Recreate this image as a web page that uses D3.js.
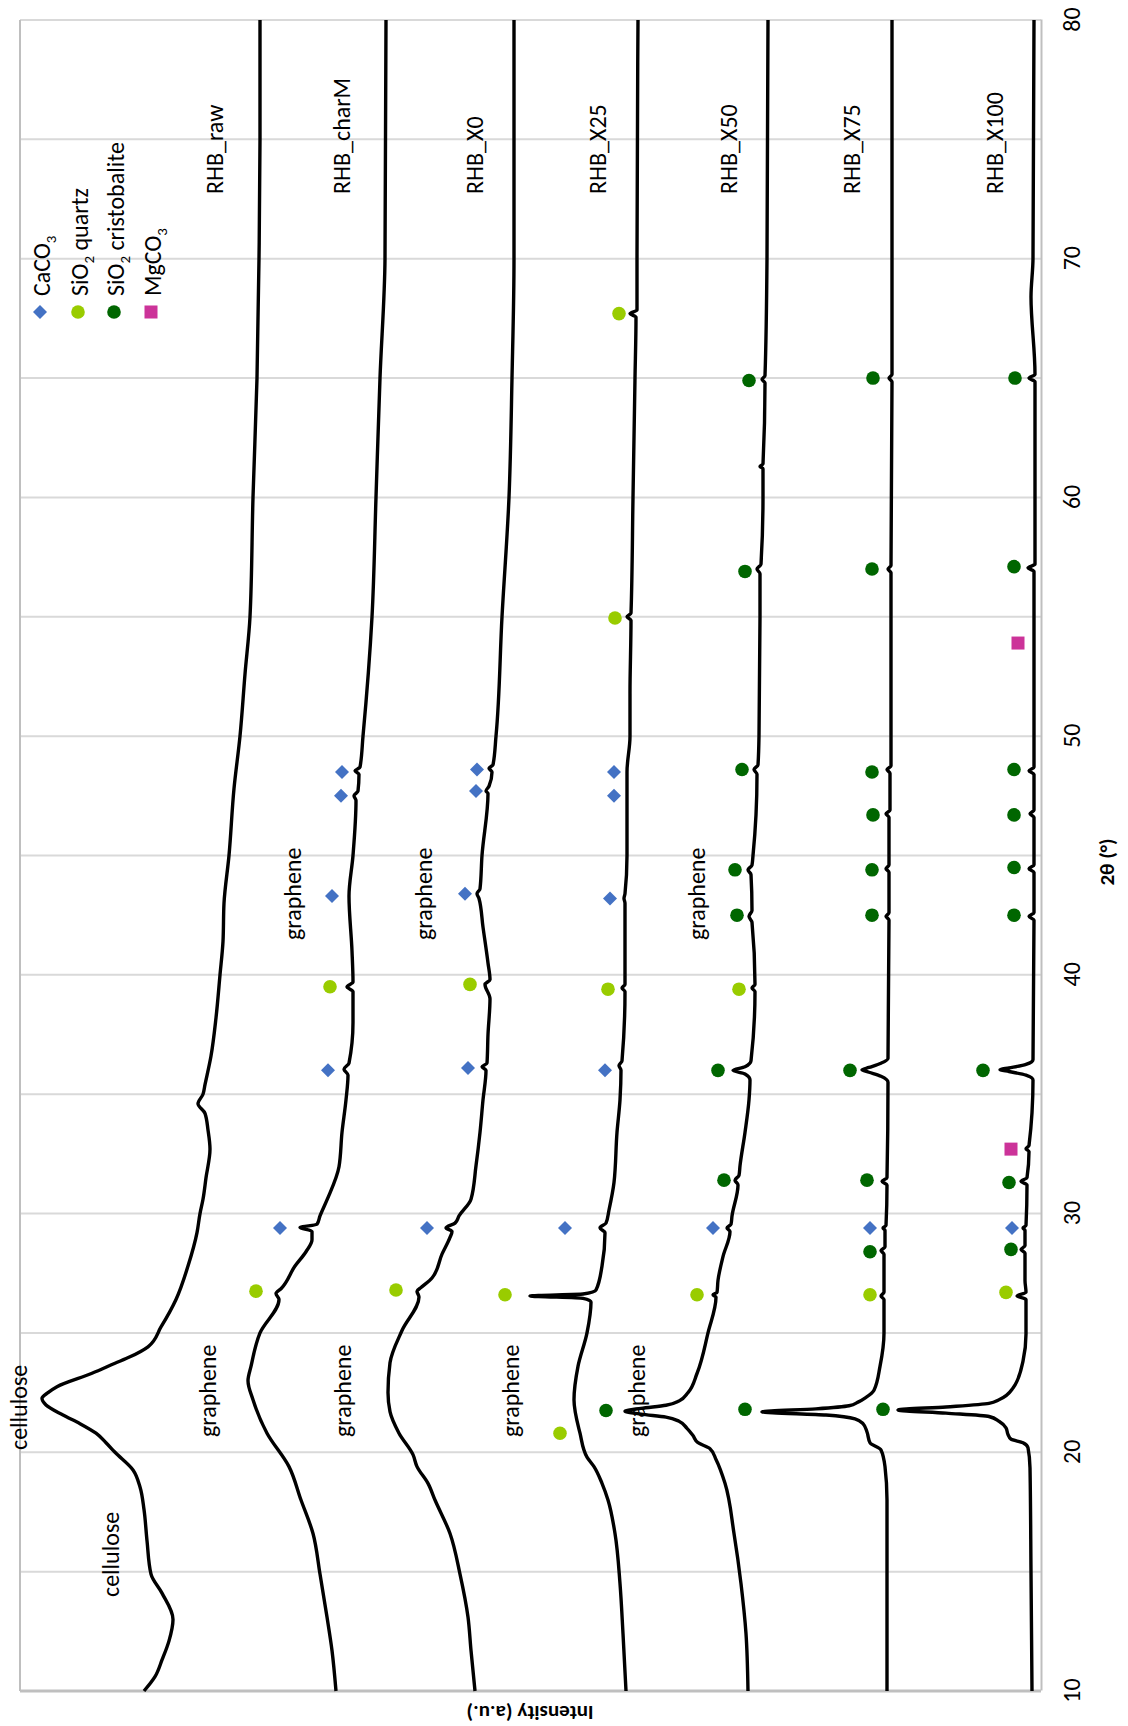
<!DOCTYPE html>
<html><head><meta charset="utf-8">
<script src="https://cdn.jsdelivr.net/npm/d3@7"></script>
<style>
body{margin:0;background:#fff;}
svg{display:block;}
</style>
</head><body>
<svg id="c" width="1128" height="1726"></svg>
<script>
// ---- axis ticks ----
const xTicks = [10, 20, 30, 40, 50, 60, 70, 80];
const gridTicks = [10, 15, 20, 25, 30, 35, 40, 45, 50, 55, 60, 65, 70, 75, 80];

// ---- series names ----
const seriesNames = ["RHB_raw", "RHB_charM", "RHB_X0", "RHB_X25", "RHB_X50", "RHB_X75", "RHB_X100"];

// ---- series values: [2theta, intensity (a.u., stacked offsets)] ----
const RHB_raw = [[10,897],[10.6,886],[11.3,879],[12.1,872],[13.0,868],[14.1,879],[14.9,890],[16.3,894],[17.6,897],[18.55,901],[19.26,908],[20.0,926],[20.4,935],[20.8,945],[21.2,961],[21.56,978],[21.98,995],[22.26,999],[22.5,993],[22.75,984],[23.31,949],[23.73,926],[24.0,911],[24.42,893],[25.25,880],[26.4,865],[27.8,853],[29.2,844],[30,841],[30.6,838],[31.5,835],[32.7,831],[33.5,833],[34.2,836],[34.6,843],[35,838],[35.4,836],[36.6,830],[38.2,825],[40,821],[41.4,818],[43,817],[45,812],[47.8,807],[50,801],[52.6,796],[55,791],[60,788],[65,784],[70,782],[75,781],[80,781]];
const RHB_charM = [[10,705],[11.7,709],[13.1,714],[14.9,721],[16.6,728],[18.0,740],[19.4,752],[20.8,774],[22.2,788],[23.0,793],[23.6,790],[25.0,781],[26.4,762],[26.65,765],[26.85,760],[27.8,746],[28.4,735],[28.9,729],[29.25,729],[29.42,741],[29.55,724],[29.9,721],[30.57,714],[31.96,702],[33.4,699],[34.76,695],[35.8,693],[36.05,697],[36.3,692],[38,688],[39.3,688],[39.5,694],[39.7,688],[41,689],[43.3,692],[45,688],[47.3,685],[47.5,687],[47.7,683],[48.4,682],[48.55,686],[48.7,681],[50,678],[55,669],[60,665],[65,661],[70,656],[80,655]];
const RHB_X0 = [[10,566],[11.7,570],[13.1,573],[14.9,581],[16.6,591],[18.0,606],[18.7,613],[19.4,624],[19.9,628],[20.8,642],[21.7,651],[22.5,653],[23.75,651],[25.1,639],[26.5,622],[26.75,624],[26.9,620],[27.3,609],[28.3,599],[29.0,591],[29.25,589],[29.4,595],[29.6,586],[29.9,582],[30.6,570],[32.0,565],[33.4,561],[34.76,558],[36.0,555],[36.15,559],[36.3,554],[37.5,553],[39.0,551],[39.6,556],[39.8,551],[40.5,553],[42,558],[43.2,562],[43.4,564],[43.6,561],[45,559],[47.6,553],[47.7,555],[47.9,552],[48.5,549],[48.65,552],[48.8,548],[50,545],[55,539],[60,532],[65,529],[70,527],[80,527]];
const RHB_X25 = [[10,415],[12.4,418],[14.5,421],[16.6,426],[18.0,433],[18.7,439],[19.4,447],[19.8,454],[20.8,461],[22.2,467],[23.6,463],[25.0,454],[26.3,450],[26.45,458],[26.55,511],[26.63,458],[26.8,445],[27.8,439],[29.2,436],[29.4,441],[29.6,435],[30.15,432],[31.3,427],[33.4,424],[34.76,421],[36.0,420],[36.2,422],[36.4,419],[39.3,416],[39.45,419],[39.6,416],[43.0,416],[43.2,417],[43.4,416],[45,414],[48.5,414],[50,411],[51.8,411],[54.85,410],[55.0,414],[55.15,410],[60,408],[65,406],[67.55,405],[67.7,411],[67.85,404],[70,404],[80,403]];
const RHB_X50 = [[10,293],[12.4,295],[14.5,300],[16.6,307],[18.7,316],[19.7,325],[20.15,331],[20.4,343],[20.7,348],[21.0,354],[21.3,362],[21.47,375],[21.6,400],[21.72,416],[21.84,400],[21.97,375],[22.15,362],[22.5,353],[23.3,344],[25.0,333],[26.5,325],[26.6,328],[26.7,324],[27.2,323],[28.2,318],[29.25,311],[29.4,314],[29.55,310],[29.9,309],[31.2,303],[31.4,306],[31.6,302],[32,301],[33.4,296],[34.76,292],[35.6,291],[35.85,296],[36.0,308],[36.15,296],[36.4,290],[39.3,286],[39.45,289],[39.6,286],[42.2,289],[42.45,292],[42.7,289],[44.2,290],[44.4,293],[44.6,289],[45,288],[48.4,284],[48.6,287],[48.8,283],[50,282],[55,281],[56.8,281],[57.0,284],[57.2,280],[60,278],[61.2,278],[61.3,281],[61.4,278],[64.8,276],[64.95,279],[65.1,276],[70,274],[80,273]];
const RHB_X75 = [[10,154],[18,154],[19.4,156],[20.1,160],[20.4,171],[20.85,174],[21.2,178],[21.4,186],[21.56,215],[21.69,279],[21.82,225],[21.95,192],[22.1,183],[22.3,175],[22.6,167],[23.6,161],[25,157],[26.4,157],[26.55,160],[26.7,157],[28.3,157],[28.45,160],[28.6,156],[29.3,156],[29.4,158],[29.5,155],[31.2,154],[31.35,159],[31.5,154],[35.5,153],[35.75,160],[35.92,172],[36.02,179],[36.12,172],[36.3,160],[36.5,153],[42.3,152],[42.45,155],[42.6,152],[44.3,152],[44.45,155],[44.6,152],[46.6,152],[46.75,155],[46.9,151],[48.45,151],[48.6,154],[48.75,150],[56.85,150],[57.0,153],[57.15,150],[64.85,149],[65.0,152],[65.15,149],[80,149]];
const RHB_X100 = [[10,9],[15,10],[19.35,11],[20.19,13],[20.4,18],[20.55,30],[20.75,33],[21.02,35],[21.3,42],[21.5,52],[21.64,95],[21.77,143],[21.9,95],[22.05,52],[22.2,42],[22.69,28],[23.82,18],[24.96,15],[26.4,15],[26.55,24],[26.7,15],[27.2,16],[28.35,16],[28.5,20],[28.65,16],[29.3,16],[29.4,18],[29.5,15],[31.2,14],[31.35,20],[31.5,14],[32.6,12],[32.72,15],[32.85,12],[35.6,8],[35.8,15],[35.95,32],[36.03,41],[36.1,32],[36.25,15],[36.45,8],[42.3,7],[42.45,12],[42.6,7],[44.3,7],[44.45,12],[44.6,7],[46.6,7],[46.75,11],[46.9,7],[48.4,7],[48.55,12],[48.7,7],[56.9,7],[57.05,13],[57.2,6],[64.85,6],[65.0,12],[65.15,6],[68.4,10],[70,8],[80,7]];
const seriesValues = [RHB_raw, RHB_charM, RHB_X0, RHB_X25, RHB_X50, RHB_X75, RHB_X100];

// ---- phase markers: [2theta, intensity] ----
const CaCO3 = [[48.5,699],[47.5,700],[43.3,709],[36.0,713],[29.4,761],
  [48.6,564],[47.7,565],[43.4,576],[36.1,573],[29.4,614],
  [48.5,427],[47.5,427],[43.2,431],[36.0,436],[29.4,476],
  [29.4,328],[29.4,171],[29.4,29]];
const SiO2_quartz = [[39.5,711],[26.75,785],
  [39.6,571],[26.8,645],
  [67.7,422],[54.95,426],[39.4,433],[26.6,536],[20.8,481],
  [39.4,302],[26.6,344],
  [26.6,171],[26.7,35]];
const SiO2_cristobalite = [[64.9,292],[56.9,296],[48.6,299],[44.4,306],[42.5,304],[36.0,323],[31.4,317],[21.75,435],
  [65.0,168],[57.0,169],[48.5,169],[46.7,168],[44.4,169],[42.5,169],[36.0,191],[31.4,174],[28.4,171],[21.8,296],
  [65.0,26],[57.1,27],[48.6,27],[46.7,27],[44.5,27],[42.5,27],[36.0,58],[31.3,32],[28.5,30],[21.8,158]];
const MgCO3 = [[53.9,23],[32.7,30]];

const phaseNames = ["CaCO|3", "SiO|2| quartz", "SiO|2| cristobalite", "MgCO|3"];
const phaseData = [CaCO3, SiO2_quartz, SiO2_cristobalite, MgCO3];
const phaseColors = ["#4472C4", "#99CC00", "#006600", "#CC3399"];
const phaseShapes = ["diamond", "circle", "circle", "square"];

// ---- annotation texts ----
const annotationTexts = ["cellulose", "cellulose", "graphene", "graphene", "graphene", "graphene", "graphene", "graphene", "graphene"];

// ================= layout =================
const FONT = "Carlito, Calibri, Lato, 'Open Sans', sans-serif";
const W = 1671, H = 1021;                 // inner (unrotated) plot size
const svg = d3.select("#c");
const g = svg.append("g").attr("transform", "translate(20,1691) rotate(-90)");

const x = d3.scaleLinear().domain([10, 80]).range([0, W]);
const y = d3.scaleLinear().domain([0, 1021]).range([H, 0]);

// gridlines
g.append("g").selectAll("line").data(gridTicks).join("line")
  .attr("x1", d => x(d)).attr("x2", d => x(d))
  .attr("y1", 0).attr("y2", H)
  .attr("stroke", "#D9D9D9").attr("stroke-width", 2);

// plot border (top of unrotated plot)
g.append("line").attr("x1", 0).attr("x2", W).attr("y1", 0).attr("y2", 0)
  .attr("stroke", "#BFBFBF").attr("stroke-width", 2);
// value axis line
g.append("line").attr("x1", 0).attr("x2", 0).attr("y1", 0).attr("y2", H)
  .attr("stroke", "#BFBFBF").attr("stroke-width", 3);

// category axis (2theta)
const axis = d3.axisBottom(x).tickValues(xTicks).tickSize(0).tickPadding(22).tickFormat(d3.format("d"));
const ax = g.append("g").attr("transform", `translate(0,${H})`).call(axis);
ax.attr("font-family", FONT).attr("font-size", 24);
ax.select(".domain").attr("stroke", "#BFBFBF").attr("stroke-width", 2);
ax.selectAll("text").attr("fill", "#000");

// axis titles
g.append("text").attr("x", 829).attr("y", 1094).attr("text-anchor", "middle")
  .attr("font-family", FONT).attr("font-size", 21).attr("font-weight", "bold")
  .text("2θ (°)");
g.append("text").attr("transform", "translate(-15,510) rotate(-90)").attr("text-anchor", "middle")
  .attr("font-family", FONT).attr("font-size", 21).attr("font-weight", "bold")
  .text("Intensity (a.u.)");

// traces
const line = d3.line().x(d => x(d[0])).y(d => y(d[1])).curve(d3.curveMonotoneX);
g.append("g").selectAll("path").data(seriesValues).join("path")
  .attr("d", d => line(d))
  .attr("fill", "none").attr("stroke", "#000").attr("stroke-width", 3.4)
  .attr("stroke-linejoin", "round");

// marker drawing
function drawMarker(sel, shape, color) {
  if (shape === "circle") {
    sel.append("circle").attr("r", 6.8).attr("fill", color);
  } else if (shape === "diamond") {
    sel.append("path").attr("d", "M0,-7L7,0L0,7L-7,0Z").attr("fill", color);
  } else {
    sel.append("rect").attr("x", -6.5).attr("y", -6.5).attr("width", 13).attr("height", 13).attr("fill", color);
  }
}
phaseData.forEach((pts, i) => {
  const grp = g.append("g");
  pts.forEach(p => {
    const m = grp.append("g").attr("transform", `translate(${x(p[0])},${y(p[1])})`);
    drawMarker(m, phaseShapes[i], phaseColors[i]);
  });
});

// legend
const legY = [20, 58, 94, 131];
phaseNames.forEach((name, i) => {
  const m = g.append("g").attr("transform", `translate(1379,${legY[i]})`);
  drawMarker(m, phaseShapes[i], phaseColors[i]);
  const parts = name.split("|");
  const t = g.append("text").attr("x", 1395).attr("y", legY[i] + 10)
    .attr("font-family", FONT).attr("font-size", 24).attr("fill", "#000");
  t.append("tspan").text(parts[0]);
  if (parts.length > 1) {
    t.append("tspan").attr("font-size", 15).attr("dy", 6).text(parts[1]);
    if (parts[2]) t.append("tspan").attr("dy", -6).text(parts[2]);
  }
});

// series labels
const labelY = [203, 330, 463, 586, 717, 840, 983];
seriesNames.forEach((n, i) => {
  g.append("text").attr("x", 1497).attr("y", labelY[i])
    .attr("font-family", FONT).attr("font-size", 24).attr("fill", "#000").text(n);
});

// annotations
const annPos = [[241, 7], [94, 99], [254, 196], [254, 331], [254, 499], [254, 625], [751, 281], [751, 412], [751, 685]];
annotationTexts.forEach((tx, i) => {
  g.append("text").attr("x", annPos[i][0]).attr("y", annPos[i][1])
    .attr("font-family", FONT).attr("font-size", 24).attr("fill", "#000").text(tx);
});
</script>
</body></html>
